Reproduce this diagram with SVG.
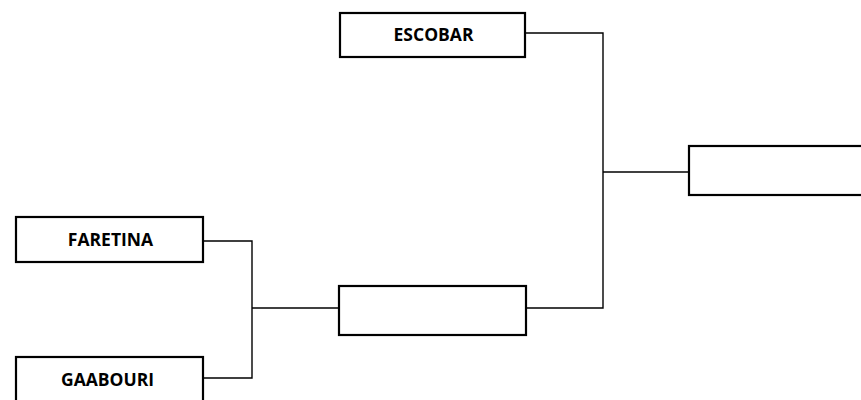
<svg xmlns="http://www.w3.org/2000/svg" width="861" height="400" viewBox="0 0 861 400">
<style>
.box{fill:#fff;stroke:#000;stroke-width:2.2}
.lbl{font-family:"Open Sans","Liberation Sans",sans-serif;font-weight:bold;font-size:17.5px;fill:#000;text-anchor:middle}
.con{fill:none;stroke:#000;stroke-width:1.4}
</style>
<rect width="861" height="400" fill="#fff"/>
<g id="connectors">
<path class="con" d="M525,33 H603 V308 H526"/>
<path class="con" d="M603,172 H689"/>
<path class="con" d="M203,241 H252 V378 H203"/>
<path class="con" d="M252,308 H339"/>
</g>
<g id="escobar"><rect class="box" x="340" y="13" width="185" height="44"/><text class="lbl" x="433.5" y="41">ESCOBAR</text></g>
<g id="faretina"><rect class="box" x="16" y="217" width="187" height="45"/><text class="lbl" x="110.5" y="246">FARETINA</text></g>
<g id="gaabouri"><rect class="box" x="16" y="357" width="187" height="50"/><text class="lbl" x="107.5" y="386">GAABOURI</text></g>
<g id="semifinal"><rect class="box" x="339" y="286" width="187" height="49"/></g>
<g id="final"><rect class="box" x="689" y="146" width="180" height="49"/></g>
</svg>
